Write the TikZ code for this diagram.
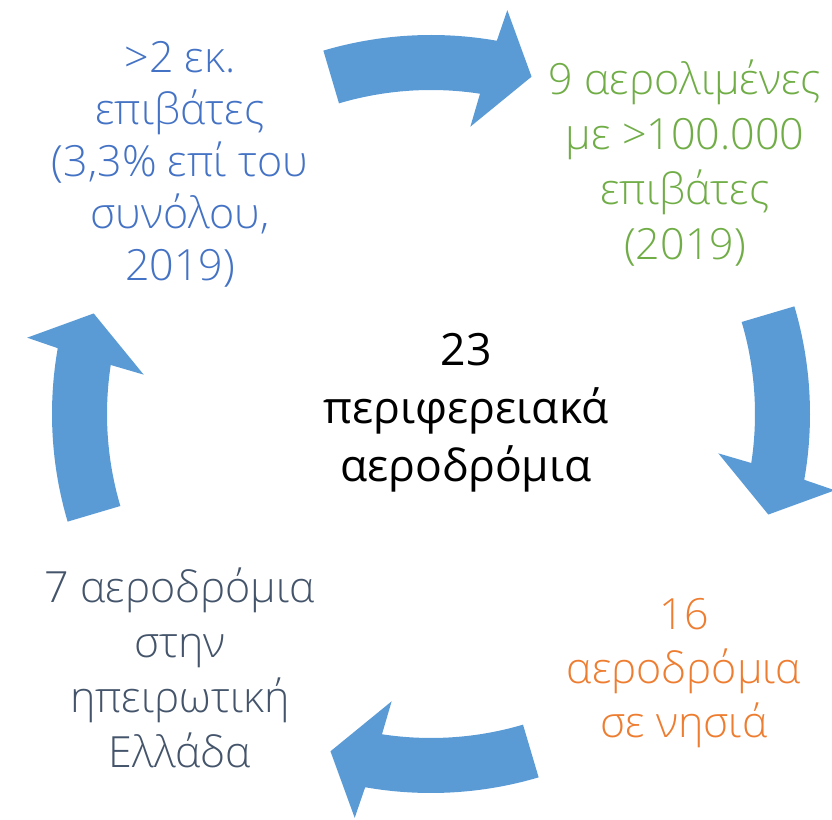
\documentclass[tikz,border=0pt]{standalone}
\usepackage{fontspec}
\setmainfont{Open Sans}
\newfontfamily\lightfont{Open Sans Light}
\definecolor{arrowblue}{HTML}{5B9BD5}
\definecolor{txtblue}{HTML}{4472C4}
\definecolor{txtgreen}{HTML}{70AD47}
\definecolor{txtorange}{HTML}{ED7D31}
\definecolor{txtdark}{HTML}{44546A}
\newcommand\cyclearrow[1]{%
  \fill[arrowfill] ({#1+16.5}:379) arc[start angle={#1+16.5}, end angle={#1-10}, radius=379]
    -- ({#1-10.7}:411) -- ({#1-16.6}:352) -- ({#1-7.8}:290) -- ({#1-8.7}:324)
    arc[start angle={#1-8.7}, end angle={#1+16.5}, radius=324] -- cycle;}
\begin{document}
\begin{tikzpicture}[x=1pt,y=1pt,
  arrowfill/.style={fill=arrowblue},
  label/.style={align=center, inner sep=0pt},
  centre/.style={align=center, inner sep=0pt, font=\fontsize{44.5}{58}\selectfont}]
\useasboundingbox (0,0) rectangle (832,819);
\begin{scope}[shift={(431,405)}]
\cyclearrow{90}
\cyclearrow{0}
\cyclearrow{270}
\cyclearrow{180}
\end{scope}
\node[centre, text=black] (hub) at (466,406.5) {23\\περιφερειακά\\αεροδρόμια};
\node[label, text=txtblue, font=\lightfont\fontsize{43}{52}\selectfont] (pax) at (180,655) {>2 εκ.\\επιβάτες\\(3,3\% επί του\\συνόλου,\\2019)};
\node[label, text=txtgreen, font=\lightfont\fontsize{43}{55}\selectfont] (ports) at (685,655.5) {9 αερολιμένες\\με >100.000\\επιβάτες\\(2019)};
\node[label, text=txtorange, font=\lightfont\fontsize{43}{54}\selectfont] (islands) at (684,145.5) {16\\αεροδρόμια\\σε νησιά};
\node[label, text=txtdark, font=\lightfont\fontsize{43}{55}\selectfont] (mainland) at (180,151.5) {7 αεροδρόμια\\στην\\ηπειρωτική\\Ελλάδα};
\end{tikzpicture}
\end{document}
